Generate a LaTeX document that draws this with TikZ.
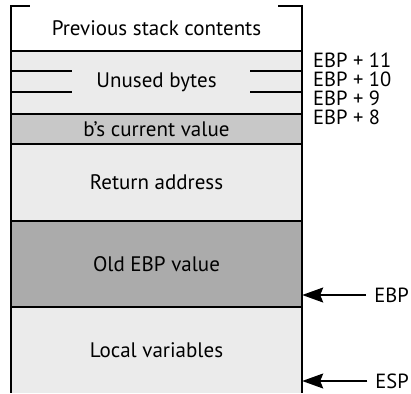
\documentclass[tikz,border=0pt]{standalone}
\usepackage{fontspec}
\setmainfont{PT Sans}
\usetikzlibrary{positioning,arrows.meta,calc}
\definecolor{slotlt}{HTML}{EBEBEB}
\definecolor{slotmd}{HTML}{C8C8C8}
\definecolor{slotdk}{HTML}{ABABAB}
\tikzset{
  x=1pt, y=-1pt,
  slot/.style  ={draw=none, minimum width=291pt, inner sep=0pt, font=\fontsize{21}{23}\selectfont},
  edge/.style  ={draw=black, line width=1.6pt},
  ptr/.style   ={draw=black, line width=1.6pt, -{Stealth[length=21pt,width=15pt,inset=3pt]}},
  offs/.style  ={anchor=west, inner sep=0pt, font=\fontsize{20.5}{22}\selectfont},
}
\begin{document}
\begin{tikzpicture}
    \useasboundingbox (0,0) rectangle (411,393);
    \node[slot,fill=white,minimum height=45pt]  (prev)   at (156.5,28.5) {Previous stack contents};
    \node[slot,fill=slotlt,minimum height=63pt] (unused) at (156.5,82.5) {Unused bytes};
    \node[slot,fill=slotmd,minimum height=30pt] (bval)   at (156.5,129)  {b’s current value};
    \node[slot,fill=slotlt,minimum height=77pt] (ret)    at (156.5,182.5){Return address};
    \node[slot,fill=slotdk,minimum height=86pt] (old)    at (156.5,264)  {Old EBP value};
    \node[slot,fill=slotlt,minimum height=86pt] (local)  at (156.5,350)  {Local variables};

    % outline and separators
    \draw[edge] ($(prev.north west)+(19,0)$) -- (prev.north west) -- (local.south west);
    \draw[edge] ($(prev.north east)+(-24,0)$) -- (prev.north east) -- (local.south east);
    \foreach \s in {unused,bval,ret,old,local}
      \draw[edge] (\s.north west) -- (\s.north east);
    \draw[edge] ($(unused.north west)+(0,20)$) -- +(61,0);
    \draw[edge] ($(unused.north west)+(0,41)$) -- +(61,0);
    \draw[edge] ($(unused.north east)+(0,20)$) -- +(-52,0);
    \draw[edge] ($(unused.north east)+(0,41)$) -- +(-52,0);

    \node[offs] (o11) at (313,60)  {EBP + 11};
    \node[offs] (o10) at (313,79)  {EBP + 10};
    \node[offs] (o9)  at (313,98)  {EBP + 9};
    \node[offs] (o8)  at (313,117) {EBP + 8};

    \node[offs,anchor=east] (ebp) at (409,295) {EBP};
    \node[offs,anchor=east] (esp) at (409,381) {ESP};
    \draw[ptr] (ebp.west) ++(-8,0) -- (ebp -| old.east);
    \draw[ptr] (esp.west) ++(-8,0) -- (esp -| local.east);
\end{tikzpicture}
\end{document}
